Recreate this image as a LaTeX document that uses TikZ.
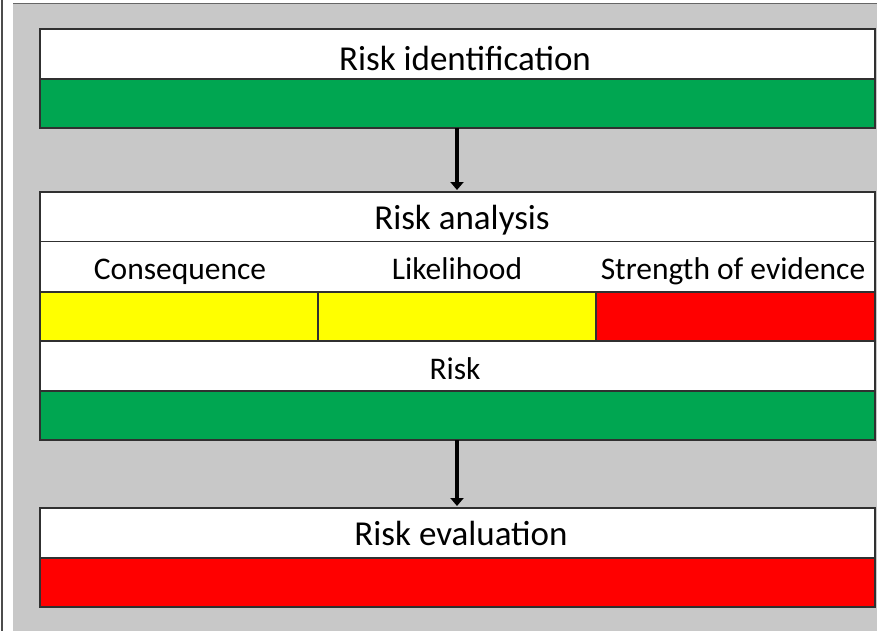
\documentclass[tikz,border=0pt]{standalone}
\usepackage{fontspec}
\setmainfont{Carlito}
\usetikzlibrary{arrows.meta}
\definecolor{bggray}{HTML}{C8C8C8}
\definecolor{rgreen}{HTML}{00A651}
\definecolor{ryellow}{HTML}{FFFF00}
\definecolor{rred}{HTML}{FF0000}
\definecolor{edge}{HTML}{303030}
\tikzset{
  cell/.style={draw=edge, line width=1.3pt},
  title/.style={font=\fontsize{35}{40}\selectfont, inner sep=0pt, anchor=base},
  head/.style={font=\fontsize{31.5}{36}\selectfont, inner sep=0pt, anchor=base},
  flow/.style={line width=3.2pt, draw=black, -{Triangle[length=8pt,width=13pt]}}
}
\begin{document}
\begin{tikzpicture}[x=1pt,y=-1pt]
\useasboundingbox (0,0) rectangle (877,631);
\fill[white] (0,0) rectangle (877,631);
\fill[bggray] (13,4) rectangle (877,631);
\draw[gray!80!black, line width=1.2pt] (13,3.6) -- (877,3.6);
\draw[gray!60!black, line width=2pt] (1.5,0) -- (1.5,631);
% Risk identification
\draw[cell, fill=white] (40,29) rectangle (875,79);
\draw[cell, fill=rgreen] (40,79) rectangle (875,128);
\node[title] (t1) at (465,71) {Risk identification};
\coordinate (a1s) at (457,128);
\coordinate (a1e) at (457,190);
% Risk analysis
\draw[cell, fill=white] (40,192) rectangle (875,242);
\fill[white] (40,242) rectangle (875,292);
\draw[cell, fill=ryellow] (40,292) rectangle (318,341);
\draw[cell, fill=ryellow] (318,292) rectangle (596,341);
\draw[cell, fill=rred] (596,292) rectangle (875,341);
\draw[cell, fill=white] (40,341) rectangle (875,391);
\draw[cell, fill=rgreen] (40,391) rectangle (875,440);
\draw[cell, fill=none] (40,192) rectangle (875,440);
\node[title] (t2) at (462,229) {Risk analysis};
\node[head] (h1) at (180,279) {Consequence};
\node[head] (h2) at (457,279) {Likelihood};
\node[head] (h3) at (733,279) {Strength of evidence};
\node[head] (h4) at (455,379) {Risk};
\coordinate (a2s) at (457,440);
\coordinate (a2e) at (457,506);
% Risk evaluation
\draw[cell, fill=white] (40,508) rectangle (875,558);
\draw[cell, fill=rred] (40,558) rectangle (875,607);
\node[title] (t3) at (461,545) {Risk evaluation};
\draw[flow] (a1s) -- (a1e);
\draw[flow] (a2s) -- (a2e);
\end{tikzpicture}
\end{document}
